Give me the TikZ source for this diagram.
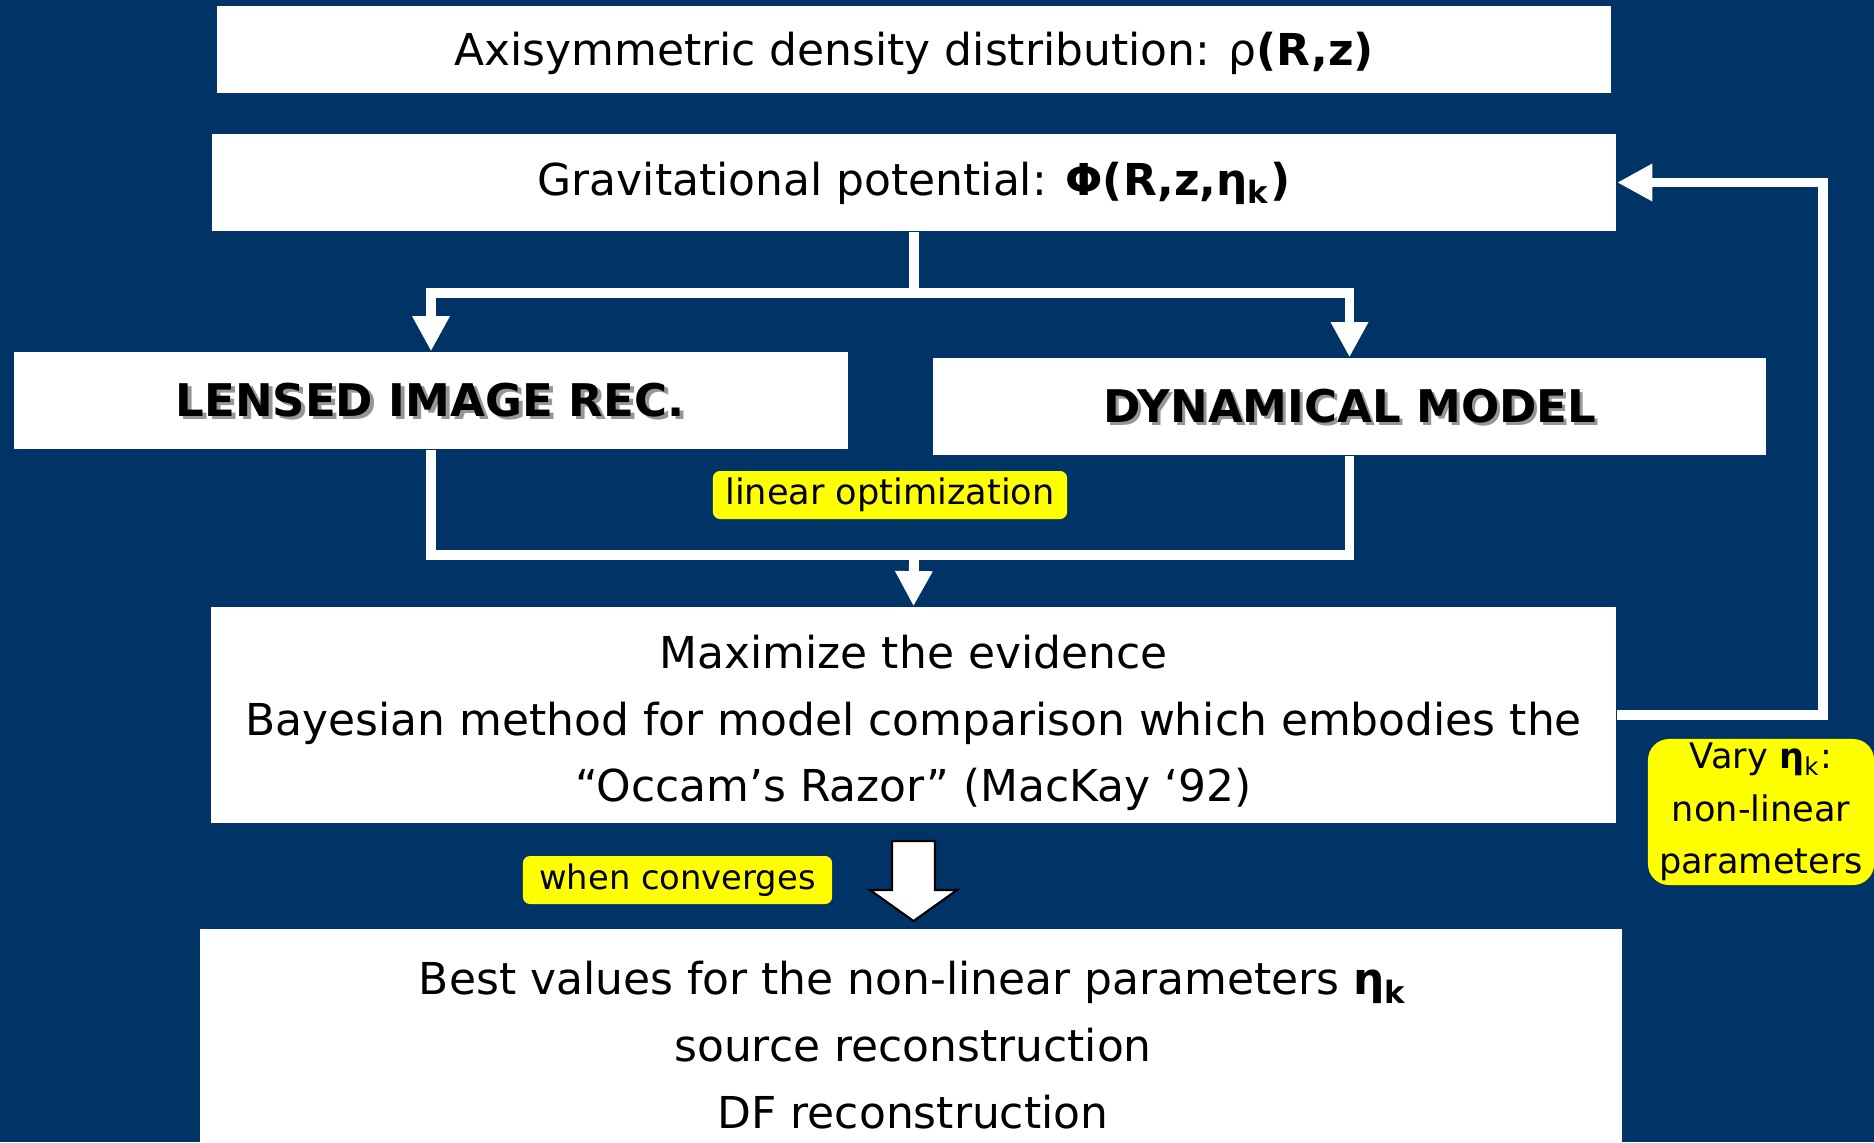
\documentclass[tikz,border=0pt]{standalone}
\usepackage{fontspec}
\setmainfont{DejaVu Sans}
\usetikzlibrary{arrows.meta}
\definecolor{navy}{RGB}{0,52,102}
\definecolor{hiyel}{RGB}{255,255,0}
\definecolor{shad}{RGB}{150,150,150}
\begin{document}
\begin{tikzpicture}[x=0.01cm,y=-0.01cm,
  wbox/.style={fill=white, draw=none, inner sep=0pt},
  txt/.style={inner sep=0pt, align=center, font=\fontsize{12.5}{19}\selectfont},
  captxt/.style={inner sep=0pt, font=\fontsize{12.8}{15}\selectfont\bfseries},
  conn/.style={draw=white, line width=2.8pt},
  arr/.style={conn, -{Triangle[length=10pt,width=10pt]}},
  ylab/.style={fill=hiyel, rounded corners=2pt, inner sep=0pt, align=center},
  ]
\useasboundingbox (0,0) rectangle (1874,1142);
\fill[navy] (0,0) rectangle (1874,1142);

% boxes
\node[wbox, minimum width=13.94cm, minimum height=0.87cm] (dens) at (914,49.5) {};
\node[txt] (densT) at (914,53) {Axisymmetric density distribution: ρ\textbf{(R,z)}};

\node[wbox, minimum width=14.04cm, minimum height=0.97cm] (pot) at (914,182.5) {};
\node[txt] (potT) at (914,183) {Gravitational potential: \textbf{Φ(R,z,η\textsubscript{k})}};

\node[wbox, minimum width=8.34cm, minimum height=0.97cm] (lens) at (431,400.5) {};
\node[captxt, text=shad] (lensS) at (434,403) {LENSED IMAGE REC.};
\node[captxt] (lensT) at (430,400) {LENSED IMAGE REC.};

\node[wbox, minimum width=8.33cm, minimum height=0.97cm] (dyn) at (1349.5,406.5) {};
\node[captxt, text=shad] (dynS) at (1353,409) {DYNAMICAL MODEL};
\node[captxt] (dynT) at (1350,406) {DYNAMICAL MODEL};

\node[wbox, minimum width=14.05cm, minimum height=2.16cm] (evid) at (913.5,715) {};
\node[txt] (evidT) at (913.5,723) {Maximize the evidence\\Bayesian method for model comparison which embodies the\\“Occam’s Razor” (MacKay ‘92)};

\node[wbox, minimum width=14.22cm, minimum height=2.13cm] (best) at (911,1035.5) {};
\node[txt] (bestT) at (913,1045) {Best values for the non-linear parameters \textbf{η\textsubscript{k}}\\source reconstruction\\DF reconstruction};

% labels
\node[ylab, minimum width=3.54cm, minimum height=0.48cm, font=\fontsize{10}{12}\selectfont] (linopt) at (890,495) {linear optimization};
\node[ylab, minimum width=3.09cm, minimum height=0.48cm, font=\fontsize{9.6}{12}\selectfont] (conv) at (677.5,880) {when converges};
\node[ylab, rounded corners=6pt, minimum width=2.26cm, minimum height=1.46cm, font=\fontsize{10}{15}\selectfont] (vary) at (1761,812) {Vary \textbf{η}\textsubscript{k}:\\non-linear\\parameters};

% connectors
\coordinate (split) at (914,293);
\coordinate (merge) at (914,555);
\coordinate (loopc) at (1823,450);
\draw[conn] (pot.south) -- (split);
\draw[arr] (split) -| (lens.north);
\draw[arr] (split) -| (dyn.north);
\draw[conn] (lens.south) |- (merge);
\draw[conn] (dyn.south) |- (merge);
\draw[arr] (merge) -- (evid.north);
\draw[arr] (evid.east) -| (loopc) |- (pot.east);

% block arrow
\draw[black, fill=white, line width=0.6pt] (892,841) -- (935,841) -- (935,890) -- (957,890) -- (913.5,921) -- (870,890) -- (892,890) -- cycle;
\end{tikzpicture}
\end{document}
